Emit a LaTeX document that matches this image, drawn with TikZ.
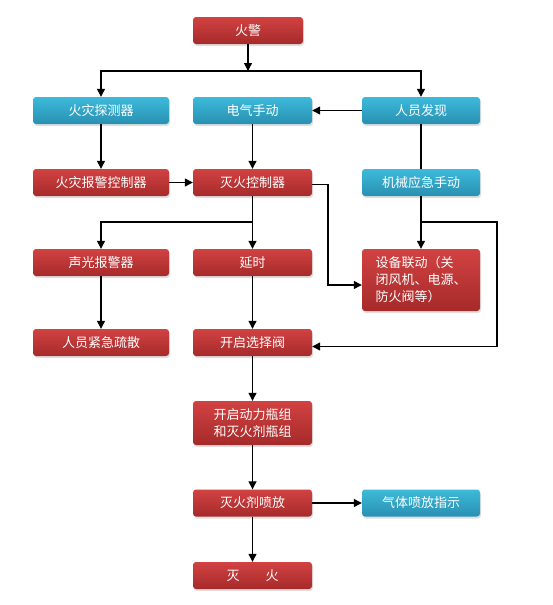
\documentclass[tikz,border=0pt]{standalone}
\usepackage{fontspec}
\newfontfamily\cjk{Noto Sans CJK SC}
\usetikzlibrary{arrows.meta, shadows}

\definecolor{redtop}{HTML}{D24242}
\definecolor{redbot}{HTML}{A62A2A}
\definecolor{bluetop}{HTML}{3DBADA}
\definecolor{bluebot}{HTML}{2990B2}

\tikzset{
	box/.style={rectangle, rounded corners=3pt, text=white, font=\cjk\fontsize{13}{17}\selectfont,
		minimum height=27pt, inner sep=2pt, align=center,
		drop shadow={shadow xshift=1pt, shadow yshift=-2pt, opacity=0.25}},
	redbox/.style={box, top color=redtop, bottom color=redbot},
	bluebox/.style={box, top color=bluetop, bottom color=bluebot},
	flow/.style={line width=1.2pt, -{Triangle[length=8pt, width=8pt]}},
	link/.style={line width=1.2pt}
}

\begin{document}
\begin{tikzpicture}[x=1pt, y=-1pt]
		\useasboundingbox (0,0) rectangle (553,605);
		\node[redbox, minimum width=110pt] (huojing) at (248,30.5) {火警};
		\node[bluebox, minimum width=136pt] (tance) at (101,110.5) {火灾探测器};
		\node[bluebox, minimum width=119pt] (dianqi) at (252.5,110.5) {电气手动};
		\node[bluebox, minimum width=118pt] (faxian) at (421,110.5) {人员发现};
		\node[redbox, minimum width=136pt] (baojingkz) at (101,182.5) {火灾报警控制器};
		\node[redbox, minimum width=119pt] (miehuokz) at (252.5,182.5) {灭火控制器};
		\node[bluebox, minimum width=118pt] (jixie) at (421,182.5) {机械应急手动};
		\node[redbox, minimum width=136pt] (shengguang) at (101,262.5) {声光报警器};
		\node[redbox, minimum width=119pt] (yanshi) at (252.5,262.5) {延时};
		\node[redbox, minimum width=118pt, minimum height=62pt, align=left, inner xsep=12pt,
			font=\cjk\fontsize{13}{17}\selectfont] (liandong) at (421,280)
			{设备联动（关\\闭风机、电源、\\防火阀等）};
		\node[redbox, minimum width=136pt] (shusan) at (101,342.5) {人员紧急疏散};
		\node[redbox, minimum width=119pt] (xuanze) at (252.5,342.5) {开启选择阀};
		\node[redbox, minimum width=119pt, minimum height=44pt] (pingzu) at (252.5,423)
			{开启动力瓶组\\和灭火剂瓶组};
		\node[redbox, minimum width=119pt] (penfang) at (252.5,503) {灭火剂喷放};
		\node[bluebox, minimum width=118pt] (zhishi) at (421,503) {气体喷放指示};
		\node[redbox, minimum width=119pt] (miehuo) at (252.5,575.5) {灭\hspace{2em}火};

		\coordinate (fenzhi) at (248,71);
		\coordinate (fenzhikz) at (252.5,222);
		\coordinate (fenzhijx) at (421,222);
		\coordinate (guai1) at (328,285);
		\coordinate (guai2) at (497,222);

		\draw[flow] (huojing) -- (fenzhi);
		\draw[flow] (fenzhi) -| (tance);
		\draw[flow] (fenzhi) -| (faxian);
		\draw[flow] (faxian) -- (dianqi);
		\draw[link] (faxian) -- (jixie);
		\draw[flow] (tance) -- (baojingkz);
		\draw[flow] (dianqi) -- (miehuokz);
		\draw[flow] (baojingkz) -- (miehuokz);
		\draw[flow] ([yshift=-2pt]miehuokz.east) -| (guai1) -- (guai1 -| liandong.west);
		\draw[flow] (miehuokz) -- (yanshi);
		\draw[flow] (fenzhikz) -| (shengguang);
		\draw[flow] (jixie) -- (liandong);
		\draw[flow] (fenzhijx) -- (guai2) |- ([yshift=-4pt]xuanze.east);
		\draw[flow] (shengguang) -- (shusan);
		\draw[flow] (yanshi) -- (xuanze);
		\draw[flow] (xuanze) -- (pingzu);
		\draw[flow] (pingzu) -- (penfang);
		\draw[flow] (penfang) -- (zhishi);
		\draw[flow] (penfang) -- (miehuo);
	\end{tikzpicture}
\end{document}
